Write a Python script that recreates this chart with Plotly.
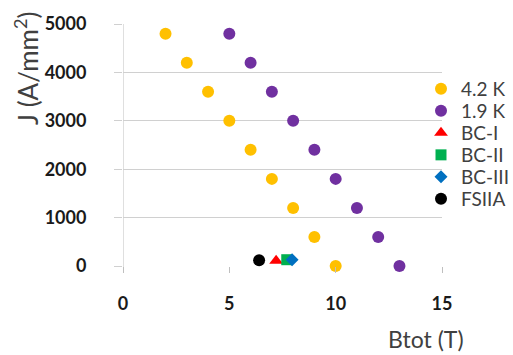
import plotly.graph_objects as go

# Data
b_42K = [2, 3, 4, 5, 6, 7, 8, 9, 10]
j_42K = [4800, 4200, 3600, 3000, 2400, 1800, 1200, 600, 0]
b_19K = [5, 6, 7, 8, 9, 10, 11, 12, 13]
j_19K = [4800, 4200, 3600, 3000, 2400, 1800, 1200, 600, 0]
b_bc1 = [7.2]
j_bc1 = [110]
b_bc2 = [7.7]
j_bc2 = [130]
b_bc3 = [7.95]
j_bc3 = [130]
b_fsiia = [6.4]
j_fsiia = [120]

series_names = ["4.2 K", "1.9 K", "BC-I", "BC-II", "BC-III", "FSIIA"]
x_ticks = [0, 5, 10, 15]
y_ticks = [0, 1000, 2000, 3000, 4000, 5000]

FONT = "Lato"
L, R, T, B = 123, 71, 24, 89
W, H = 513, 355
PW, PH = W - L - R, H - T - B

styles = [
    dict(color="#FFC000", size=12, symbol="circle"),
    dict(color="#7030A0", size=12, symbol="circle"),
    dict(color="#FF0000", size=12, symbol="triangle-up"),
    dict(color="#00B050", size=11, symbol="square"),
    dict(color="#0070C0", size=10, symbol="diamond"),
    dict(color="#000000", size=12, symbol="circle"),
]
xs = [b_42K, b_19K, b_bc1, b_bc2, b_bc3, b_fsiia]
ys = [j_42K, j_19K, j_bc1, j_bc2, j_bc3, j_fsiia]

fig = go.Figure()
legend_rows_px = [89, 111, 133, 155, 177, 199]
layout_legends = {}
for i, (name, x, y, st) in enumerate(zip(series_names, xs, ys, styles)):
    lname = "legend" if i == 0 else f"legend{i + 1}"
    fig.add_trace(go.Scatter(x=x, y=y, mode="markers", name=name, marker=st,
                             cliponaxis=False, legend=lname))
    layout_legends[lname] = dict(
        x=(421 - L) / PW, xanchor="left",
        y=(H - B - legend_rows_px[i]) / PH, yanchor="middle",
        font=dict(family=FONT, size=19, color="#404040"),
        bgcolor="rgba(0,0,0,0)", itemsizing="trace")

fig.update_layout(
    width=W, height=H,
    margin=dict(l=L, r=R, t=T, b=B, pad=0, autoexpand=False),
    paper_bgcolor="white", plot_bgcolor="white",
    font=dict(family=FONT, color="#262626"),
    showlegend=True,
    xaxis=dict(range=[0, 15], tickvals=x_ticks, ticktext=[str(v) for v in x_ticks],
               showgrid=False, zeroline=False, showline=False, automargin=False,
               ticks="outside", ticklen=6, tickcolor="#BFBFBF",
               ticklabelstandoff=15,
               tickfont=dict(family=FONT, size=18, color="#1a1a1a", weight="bold")),
    yaxis=dict(range=[0, 5000], tickvals=y_ticks, ticktext=[str(v) for v in y_ticks],
               showgrid=True, gridcolor="#D0D0D0", gridwidth=1, automargin=False,
               zeroline=False, showline=False,
               ticks="outside", ticklen=8, tickcolor="#D0D0D0",
               ticklabelstandoff=24,
               tickfont=dict(family=FONT, size=18, color="#1a1a1a", weight="bold")),
    annotations=[
        dict(text="J (A/mm<sup>2</sup>)", xref="paper", yref="paper",
             x=(27 - L) / PW, y=(H - B - 68) / PH, textangle=-90,
             showarrow=False, font=dict(family=FONT, size=26, color="#404040"),
             xanchor="center", yanchor="middle"),
        dict(text="Btot (T)", xref="paper", yref="paper",
             x=(426 - L) / PW, y=(H - B - 339) / PH,
             showarrow=False, font=dict(family=FONT, size=23, color="#404040"),
             xanchor="center", yanchor="middle"),
    ],
    **layout_legends,
)
# y axis line at x=0
fig.add_shape(type="line", xref="x", yref="y", x0=0, x1=0, y0=0, y1=5000,
              line=dict(color="#BFBFBF", width=1), layer="below")
fig.add_shape(type="line", xref="x", yref="paper", x0=0, x1=0, y0=0, y1=-6 / PH,
              line=dict(color="#BFBFBF", width=1), layer="below")

fig.write_html("out.html", config={"displayModeBar": False},
               post_script="document.body.style.margin='0px';document.body.style.overflow='hidden';")
